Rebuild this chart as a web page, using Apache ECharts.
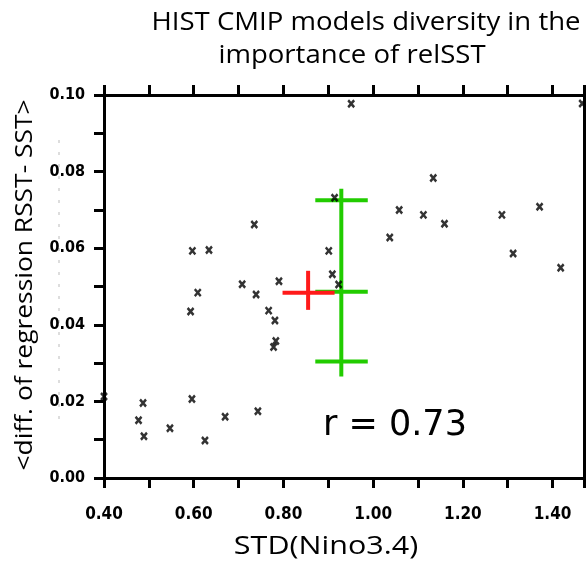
<!DOCTYPE html>
<html>
<head>
<meta charset="utf-8">
<script src="https://cdn.jsdelivr.net/npm/echarts@6/dist/echarts.min.js"></script>
<style>html,body{margin:0;padding:0;background:#fff;}#c{width:587px;height:569px;}</style>
</head>
<body>
<div id="c"></div>
<script>
// Model points: STD(Nino3.4) vs <diff. of regression RSST- SST>
const modelX = [0.735,0.597,0.634,0.708,0.790,0.951,1.466,1.134,0.914,1.058,1.112,1.159,1.287,1.371,1.037,0.901,1.312,1.418,0.909,0.923,0.609,0.593,0.739,0.767,0.781,0.783,0.778,0.400,0.487,0.596,0.477,0.489,0.547,0.670,0.743,0.625];
const modelY = [0.0662,0.0593,0.0595,0.0506,0.0514,0.0977,0.0978,0.0783,0.0732,0.0700,0.0687,0.0664,0.0687,0.0708,0.0628,0.0593,0.0586,0.0549,0.0532,0.0505,0.0484,0.0435,0.0479,0.0437,0.0411,0.0358,0.0342,0.0213,0.0196,0.0206,0.0151,0.0109,0.0130,0.0160,0.0174,0.0098];
// Red cross: [x, xLow, xHigh, y, yLow, yHigh]
const redCross = [0.855, 0.798, 0.914, 0.0484, 0.0439, 0.0541];
// Green bar: [x, xLow, xHigh, yWhiskLow, yCapLow, yMid, yCapHigh, yWhiskHigh]
const greenBar = [0.929, 0.871, 0.988, 0.0265, 0.0304, 0.0486, 0.0725, 0.0755];
const xTicks = ['0.40','0.60','0.80','1.00','1.20','1.40'];
const yTicks = ['0.00','0.02','0.04','0.06','0.08','0.10'];
const corrText = 'r = 0.73';

const chart = echarts.init(document.getElementById('c'), null, {renderer:'canvas'});
const pts = modelX.map((x,i)=>[x, modelY[i]]);
const narrow = '"DejaVu Sans Condensed","Liberation Sans Narrow","Arial Narrow","Liberation Sans",sans-serif';

function lineSeg(api, a, b, color) {
  const p1 = api.coord(a), p2 = api.coord(b);
  return {type:'line', shape:{x1:p1[0],y1:p1[1],x2:p2[0],y2:p2[1]}, style:{stroke:color, lineWidth:4}};
}

chart.setOption({
  animation:false,
  backgroundColor:'#fff',
  grid:{left:104, right:2, top:95, bottom:91, show:false},
  xAxis:[{
    type:'value', min:0.4, max:1.47, interval:0.1, position:'bottom',
    axisLine:{show:true, onZero:false, lineStyle:{color:'#000', width:3}},
    axisTick:{show:true, inside:false, length:10, lineStyle:{color:'#000', width:3}},
    splitLine:{show:false},
    axisLabel:{margin:28, fontFamily:narrow, fontWeight:'bold', fontSize:17, color:'#000',
      formatter:v=>{const s=v.toFixed(2);return xTicks.indexOf(s)>=0?s:'';}}
  },{
    type:'value', min:0.4, max:1.47, interval:0.1, position:'top',
    axisLine:{show:true, onZero:false, lineStyle:{color:'#000', width:3}},
    axisTick:{show:true, inside:false, length:10, lineStyle:{color:'#000', width:3}},
    splitLine:{show:false}, axisLabel:{show:false}
  }],
  yAxis:[{
    type:'value', min:0, max:0.1, interval:0.01, position:'left',
    axisLine:{show:true, onZero:false, lineStyle:{color:'#000', width:3}},
    axisTick:{show:true, inside:false, length:10, lineStyle:{color:'#000', width:3}},
    splitLine:{show:false},
    axisLabel:{margin:19, fontFamily:narrow, fontWeight:'bold', fontSize:16, color:'#000',
      formatter:v=>{const s=v.toFixed(2);return yTicks.indexOf(s)>=0?s:'';}}
  },{
    type:'value', min:0, max:0.1, interval:0.01, position:'right',
    axisLine:{show:true, onZero:false, lineStyle:{color:'#000', width:3}},
    axisTick:{show:false}, splitLine:{show:false}, axisLabel:{show:false}
  }],
  series:[{
    type:'scatter', data:pts, xAxisIndex:0, yAxisIndex:0,
    symbol:'path://M0,0L10,10M10,0L0,10', symbolSize:[6,7], clip:true,
    itemStyle:{color:'rgba(0,0,0,0)', borderColor:'#000', borderWidth:2.6}
  },{
    type:'custom', xAxisIndex:0, yAxisIndex:0, clip:false,
    data:[greenBar],
    renderItem:(params, api)=>{
      const x=api.value(0), xl=api.value(1), xh=api.value(2);
      const c='#22cc00';
      return {type:'group', children:[
        lineSeg(api,[x,api.value(3)],[x,api.value(7)],c),
        lineSeg(api,[xl,api.value(4)],[xh,api.value(4)],c),
        lineSeg(api,[xl,api.value(5)],[xh,api.value(5)],c),
        lineSeg(api,[xl,api.value(6)],[xh,api.value(6)],c)
      ]};
    }
  },{
    type:'custom', xAxisIndex:0, yAxisIndex:0, clip:false,
    data:[redCross],
    renderItem:(params, api)=>{
      const c='#ff1a1a';
      return {type:'group', children:[
        lineSeg(api,[api.value(1),api.value(3)],[api.value(2),api.value(3)],c),
        lineSeg(api,[api.value(0),api.value(4)],[api.value(0),api.value(5)],c)
      ]};
    }
  }],
  graphic:[
    {type:'text', x:366, y:23, scaleX:1.06, style:{text:'HIST CMIP models diversity in the', font:'26px "Open Sans", sans-serif', fill:'#000', align:'center', verticalAlign:'middle'}},
    {type:'text', x:352, y:56, scaleX:1.06, style:{text:'importance of relSST', font:'26px "Open Sans", sans-serif', fill:'#000', align:'center', verticalAlign:'middle'}},
    {type:'text', x:326, y:547, scaleX:1.22, style:{text:'STD(Nino3.4)', font:'25px "Open Sans", sans-serif', fill:'#000', align:'center', verticalAlign:'middle'}},
    {type:'text', x:25, y:285, rotation:Math.PI/2, scaleX:1.1, style:{text:'<diff. of regression RSST- SST>', font:'24px "Open Sans", sans-serif', fill:'#000', align:'center', verticalAlign:'middle'}},
    {type:'text', x:323, y:426, style:{text:corrText, font:'35px "DejaVu Sans", sans-serif', fill:'#000', align:'left', verticalAlign:'middle'}},
    {type:'line', shape:{x1:59, y1:140, x2:59, y2:425}, style:{stroke:'#bbb', lineWidth:1, lineDash:[3,9]}}
  ]
});
</script>
</body>
</html>
